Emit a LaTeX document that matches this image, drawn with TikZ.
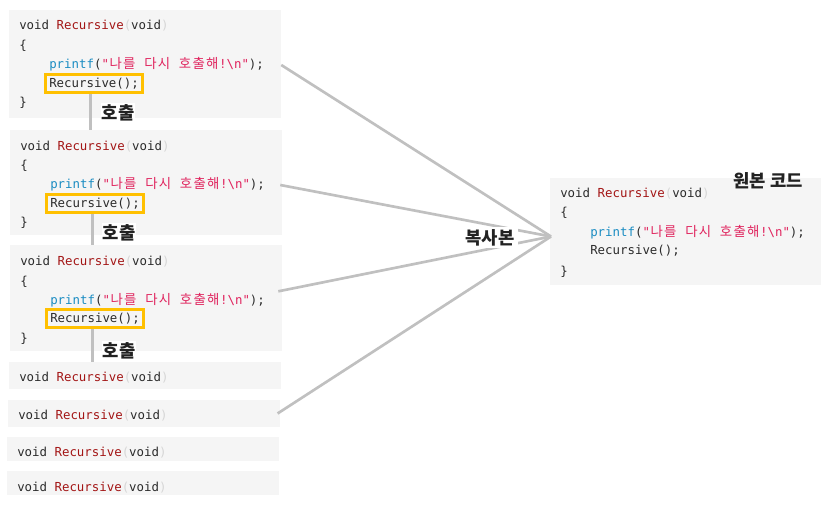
\documentclass[tikz,border=0pt]{standalone}
\usepackage{fontspec}
\usetikzlibrary{fit}
\newfontfamily\codefont{DejaVu Sans Mono}
\newfontfamily\krcode{Noto Sans CJK KR}[Scale=1.08]
\newfontfamily\krfont{Noto Sans CJK KR}
\definecolor{boxgray}{HTML}{F5F5F5}
\definecolor{linegray}{HTML}{C0C0C0}
\definecolor{kwgray}{HTML}{2B2B2B}
\definecolor{fnred}{HTML}{A31515}
\definecolor{parengray}{HTML}{D6D6D6}
\definecolor{callblue}{HTML}{1A8CC2}
\definecolor{strpink}{HTML}{E0245E}
\definecolor{markyellow}{HTML}{FFC000}
\definecolor{tagblack}{HTML}{222222}
\newcommand{\kc}[1]{\makebox[10.2pt]{\krcode #1}}
\newcommand{\sigline}{void \textcolor{fnred}{Recursive}\textcolor{parengray}{(}void\textcolor{parengray}{)}}
\newcommand{\printline}{\textcolor{callblue}{printf}(\textcolor{strpink}{"\kc{나}\kc{를} \kc{다}\kc{시} \kc{호}\kc{출}\kc{해}!\textbackslash n"});}
\begin{document}
\begin{tikzpicture}[x=0.75pt, y=-0.75pt,
    codebox/.style={fill=boxgray, inner sep=0pt},
    code/.style={font=\codefont\fontsize{9.3}{11}\selectfont, text=kwgray, anchor=west,
        inner sep=0pt, text height=8pt, text depth=2pt},
    callmark/.style={draw=markyellow, line width=2.2pt, inner xsep=2.4pt, inner ysep=1.8pt},
    link/.style={draw=linegray, line width=2pt},
    tag/.style={font=\krfont\bfseries\fontsize{13.3}{15}\selectfont, text=tagblack,
        fill=white, inner xsep=0.5pt, inner ysep=1.5pt}]
    \useasboundingbox (0,0) rectangle (837,509);
    % First copy
    \begin{scope}[shift={(9,10)}]
        \node[codebox, fit={(0,0) (272,108)}] (box1) {};
        \node[code] (s1) at (10,16) {\sigline};
        \node[code] (o1) at (10,36) {\{};
        \node[code] (p1) at (40,55) {\printline};
        \node[code] (r1) at (40,73.5) {Recursive();};
        \node[code] (c1) at (10,93) {\}};
        \node[callmark, fit=(r1)] (m1) {};
    \end{scope}
    % Second copy
    \begin{scope}[shift={(10,130)}]
        \node[codebox, fit={(0,0) (272,105)}] (box2) {};
        \node[code] (s2) at (10,16.5) {\sigline};
        \node[code] (o2) at (10,36) {\{};
        \node[code] (p2) at (40,55) {\printline};
        \node[code] (r2) at (40,73.5) {Recursive();};
        \node[code] (c2) at (10,93) {\}};
        \node[callmark, fit=(r2)] (m2) {};
    \end{scope}
    % Third copy
    \begin{scope}[shift={(10,245)}]
        \node[codebox, fit={(0,0) (272,106)}] (box3) {};
        \node[code] (s3) at (10,16.5) {\sigline};
        \node[code] (o3) at (10,36) {\{};
        \node[code] (p3) at (40,55) {\printline};
        \node[code] (r3) at (40,73.5) {Recursive();};
        \node[code] (c3) at (10,93) {\}};
        \node[callmark, fit=(r3)] (m3) {};
    \end{scope}
    % Further copies
    \node[codebox, fit={(9,362) (281,389)}] (box4) {};
    \node[code] (s4) at (19,377.5) {\sigline};
    \node[codebox, fit={(8,400) (280,427)}] (box5) {};
    \node[code] (s5) at (18,415.5) {\sigline};
    \node[codebox, fit={(7,437) (279,461)}] (box6) {};
    \node[code] (s6) at (17,452) {\sigline};
    \node[codebox, fit={(7,471) (279,495)}] (box7) {};
    \node[code] (s7) at (17,487) {\sigline};
    % Original code
    \node[codebox, fit={(550,178) (821,285)}] (orig) {};
    \node[code] (s0) at (560,194) {\sigline};
    \node[code] (o0) at (560,213) {\{};
    \node[code] (p0) at (590,233) {\printline};
    \node[code] (r0) at (590,251) {Recursive();};
    \node[code] (c0) at (560,271) {\}};
    \node[font=\krfont\bfseries\fontsize{13.3}{15}\selectfont, text=tagblack] (origtag) at (768,181) {원본 코드};
    % Calls
    \draw[link] ([xshift=-2.5pt]m1.south) -- ([xshift=-2.5pt]m1.south |- box2.north);
    \draw[link] ([xshift=-2pt]m2.south) -- ([xshift=-2pt]m2.south |- box3.north);
    \draw[link] ([xshift=-2pt]m3.south) -- ([xshift=-2pt]m3.south |- box4.north);
    \node[tag] (call1) at (118,113) {호출};
    \node[tag] (call2) at (119,233) {호출};
    \node[tag] (call3) at (119,351) {호출};
    % Copies
    \coordinate (hub) at (551,236.5);
    \draw[link] (box1.east |- p1.west) -- (hub);
    \draw[link] ([xshift=-1.5pt]box2.east |- p2.west) -- (hub);
    \draw[link] ([xshift=-3pt,yshift=5pt]box3.east) -- (hub);
    \draw[link] ([xshift=-2pt]box5.east) -- (hub);
    \node[tag, inner xsep=3pt, inner ysep=1.5pt] (copytag) at (490,237.5) {복사본};
\end{tikzpicture}
\end{document}
